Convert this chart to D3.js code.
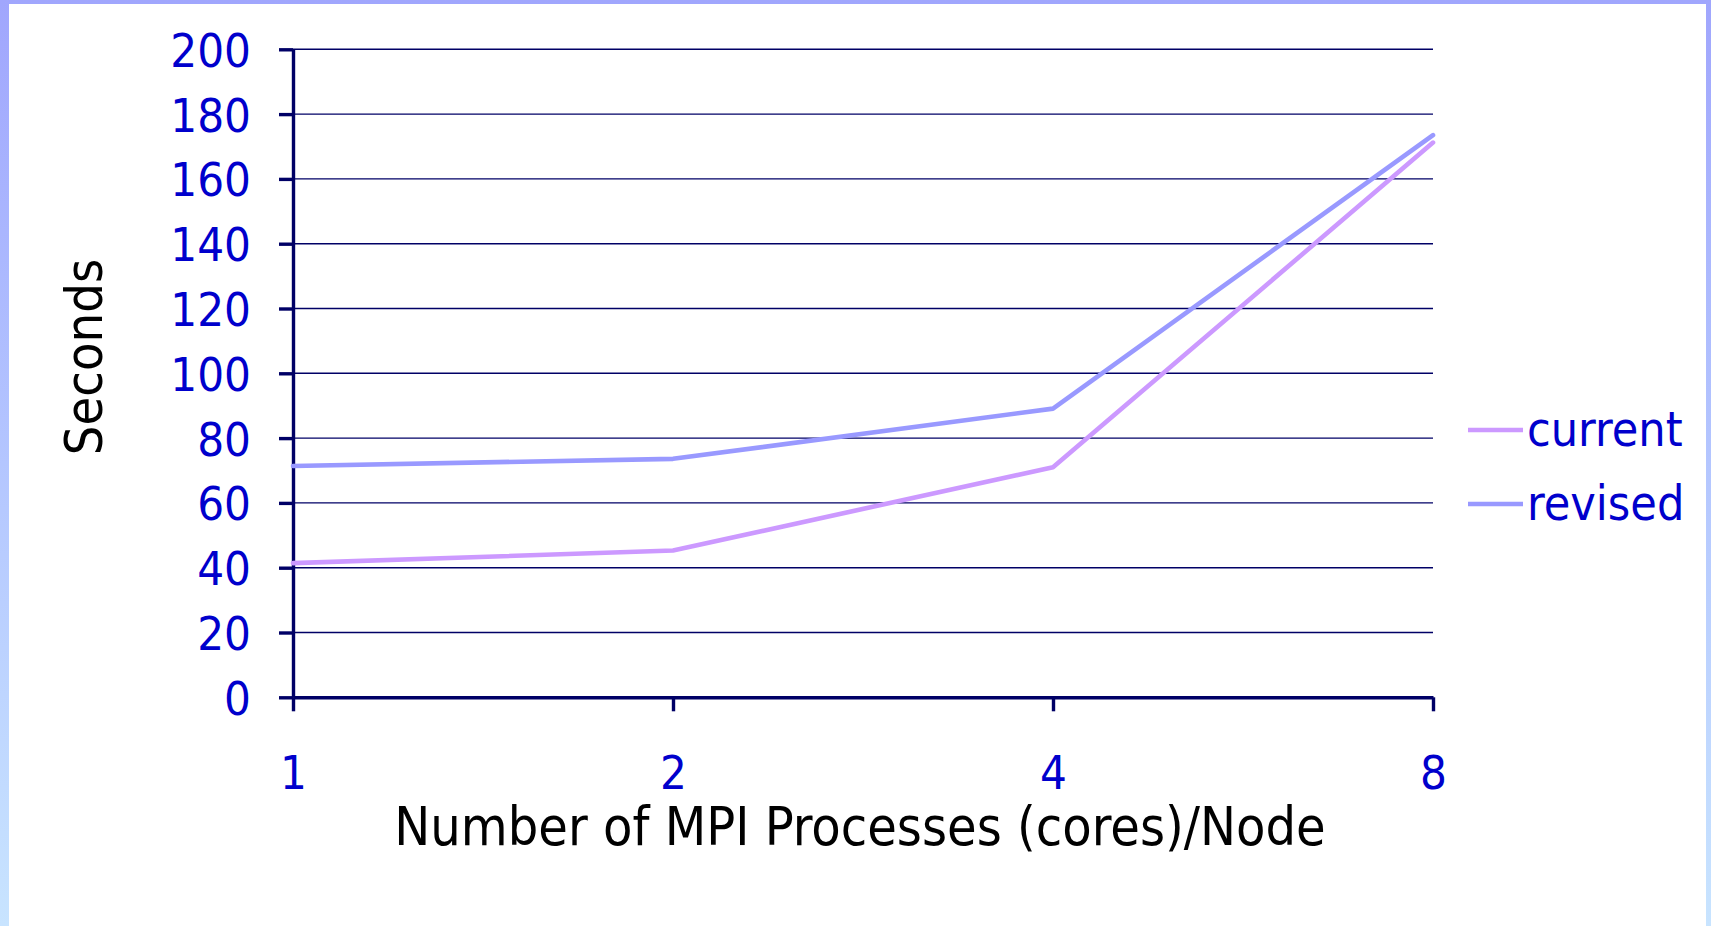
<!DOCTYPE html>
<html>
<head>
<meta charset="utf-8">
<script src="https://cdn.jsdelivr.net/npm/d3@7"></script>
<style>
  html, body { margin: 0; padding: 0; }
  body {
    width: 1711px; height: 926px; overflow: hidden;
    background: linear-gradient(to bottom, #a0a6fd 0%, #b4c6ff 50%, #c8e4ff 100%);
    position: relative;
  }
  #panel {
    position: absolute; left: 9px; top: 4px; width: 1697px; height: 922px;
    background: #ffffff;
  }
  svg { position: absolute; left: 0; top: 0; }
  text { font-family: "DejaVu Sans Condensed", "DejaVu Sans", sans-serif; }
</style>
</head>
<body>
<div id="panel"></div>
<svg id="chart" width="1711" height="926"></svg>
<script>
// Run time per node count for the two code versions
const processes = ["1", "2", "4", "8"];
const currentSeconds = [41.4, 45.3, 71, 171.2];
const revisedSeconds = [71.4, 73.6, 89.1, 173.5];
const yTicks = [0, 20, 40, 60, 80, 100, 120, 140, 160, 180, 200];
const seriesNames = ["current", "revised"];
const seriesColors = ["#cc99ff", "#9999ff"];

const svg = d3.select("#chart");
const plotLeft = 293, plotRight = 1433, plotTop = 49.3, plotBottom = 697.3;
const axisColor = "#000066";
const labelColor = "#0000cc";
const fontStack = "'DejaVu Sans Condensed', 'DejaVu Sans', sans-serif";

const x = d3.scalePoint().domain(processes).range([plotLeft, plotRight]);
const y = d3.scaleLinear().domain([0, 200]).range([plotBottom, plotTop]);

// horizontal gridlines
svg.append("g")
  .selectAll("line")
  .data(yTicks.filter(d => d > 0))
  .join("line")
  .attr("x1", plotLeft).attr("x2", plotRight)
  .attr("y1", d => y(d)).attr("y2", d => y(d))
  .attr("stroke", axisColor).attr("stroke-width", 1.4);

// y axis
const yAxis = svg.append("g")
  .attr("transform", `translate(${plotLeft},0)`)
  .call(d3.axisLeft(y).tickValues(yTicks).tickSize(14).tickPadding(28).tickSizeOuter(0));
yAxis.select(".domain").attr("stroke", axisColor).attr("stroke-width", 3.4);
yAxis.selectAll(".tick line").attr("stroke", axisColor).attr("stroke-width", 3.4);
yAxis.selectAll(".tick text")
  .attr("fill", labelColor)
  .style("font-size", "47px")
  .style("font-family", fontStack)
  .attr("dy", "0.36em");

// x axis
const xAxis = svg.append("g")
  .attr("transform", `translate(0,${plotBottom})`)
  .call(d3.axisBottom(x).tickSize(14).tickPadding(44).tickSizeOuter(0));
xAxis.select(".domain").attr("stroke", axisColor).attr("stroke-width", 3.4);
xAxis.selectAll(".tick line").attr("stroke", axisColor).attr("stroke-width", 3.4);
xAxis.selectAll(".tick text")
  .attr("fill", labelColor)
  .style("font-size", "47px")
  .style("font-family", fontStack)
  .attr("dy", "0.71em");

// series lines
const line = d3.line().x((d, i) => x(processes[i])).y(d => y(d));
[currentSeconds, revisedSeconds].forEach((vals, k) => {
  svg.append("path")
    .datum(vals)
    .attr("d", line)
    .attr("fill", "none")
    .attr("stroke", seriesColors[k])
    .attr("stroke-width", 4.6)
    .attr("stroke-linejoin", "round")
    .attr("stroke-linecap", "round");
});

// axis titles
svg.append("text")
  .attr("x", 860).attr("y", 845)
  .attr("text-anchor", "middle")
  .attr("fill", "#000000")
  .style("font-size", "53.5px")
  .text("Number of MPI Processes (cores)/Node");

svg.append("text")
  .attr("transform", "translate(102,357) rotate(-90)")
  .attr("text-anchor", "middle")
  .attr("fill", "#000000")
  .style("font-size", "52px")
  .text("Seconds");

// legend
const legend = svg.append("g");
seriesNames.forEach((name, k) => {
  const ly = 430 + k * 74;
  legend.append("line")
    .attr("x1", 1468).attr("x2", 1523)
    .attr("y1", ly).attr("y2", ly)
    .attr("stroke", seriesColors[k]).attr("stroke-width", 4.6);
  legend.append("text")
    .attr("x", 1527).attr("y", ly)
    .attr("dy", "0.34em")
    .attr("fill", labelColor)
    .style("font-size", "48px")
    .text(name);
});
</script>
</body>
</html>
